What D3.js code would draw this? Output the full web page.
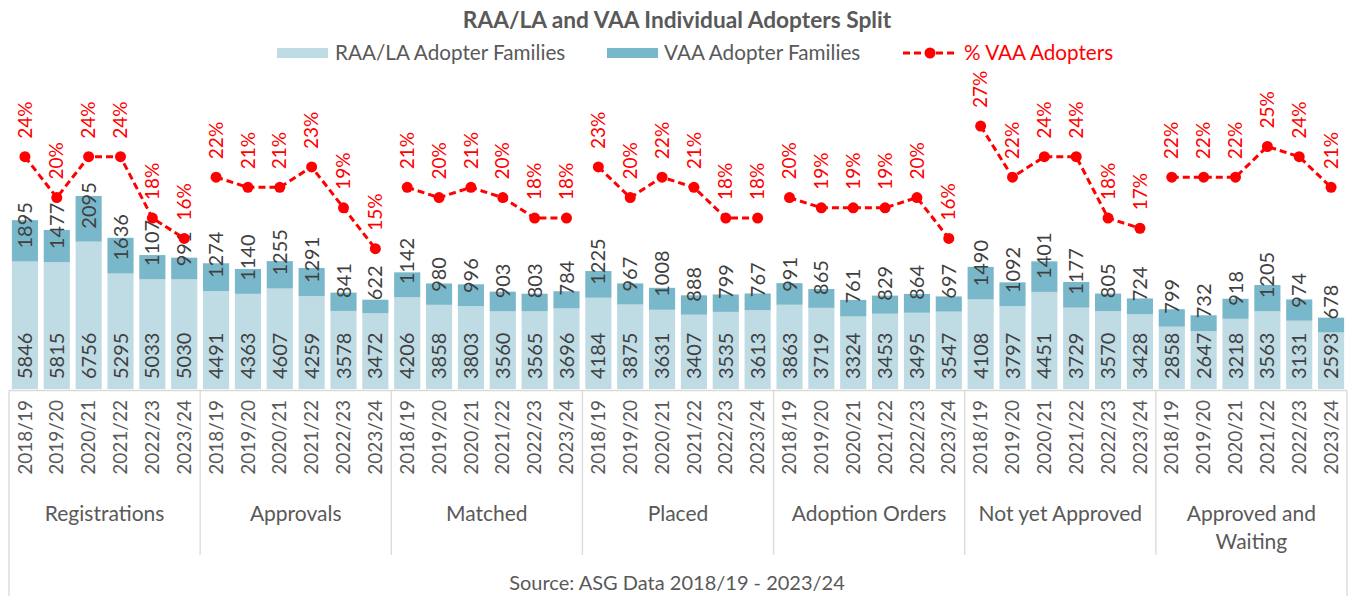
<!DOCTYPE html>
<html>
<head>
<meta charset="utf-8">
<script src="https://cdn.jsdelivr.net/npm/d3@7"></script>
<style>
  body { margin: 0; background: #fff; }
  svg text { font-family: Lato, "Open Sans", sans-serif; }
</style>
</head>
<body>
<svg id="chart" width="1351" height="596"></svg>
<script>
// stages and years on the x axis
const groups = ['Registrations', 'Approvals', 'Matched', 'Placed', 'Adoption Orders', 'Not yet Approved', 'Approved and Waiting'];
const years = ['2018/19', '2019/20', '2020/21', '2021/22', '2022/23', '2023/24'];

// RAA/LA adopter families, one row per stage
const raaLa = [
    [5846, 5815, 6756, 5295, 5033, 5030],
    [4491, 4363, 4607, 4259, 3578, 3472],
    [4206, 3858, 3803, 3560, 3565, 3696],
    [4184, 3875, 3631, 3407, 3535, 3613],
    [3863, 3719, 3324, 3453, 3495, 3547],
    [4108, 3797, 4451, 3729, 3570, 3428],
    [2858, 2647, 3218, 3563, 3131, 2593],
];

// VAA adopter families
const vaa = [
    [1895, 1477, 2095, 1636, 1107, 991],
    [1274, 1140, 1255, 1291, 841, 622],
    [1142, 980, 996, 903, 803, 784],
    [1225, 967, 1008, 888, 799, 767],
    [991, 865, 761, 829, 864, 697],
    [1490, 1092, 1401, 1177, 805, 724],
    [799, 732, 918, 1205, 974, 678],
];

// % VAA adopters
const vaaPct = [
    [24, 20, 24, 24, 18, 16],
    [22, 21, 21, 23, 19, 15],
    [21, 20, 21, 20, 18, 18],
    [23, 20, 22, 21, 18, 18],
    [20, 19, 19, 19, 20, 16],
    [27, 22, 24, 24, 18, 17],
    [22, 22, 22, 25, 24, 21],
];

const COLOR_RAA = '#bfdbe4';
const COLOR_VAA = '#79b8ca';
const COLOR_PCT = '#ff0000';
const COLOR_TEXT = '#595959';
const COLOR_LABEL = '#404040';
const COLOR_GRID = '#d9d9d9';

const LEFT = 9, RIGHT = 1347, TOP = 40, BOTTOM = 389;

const svg = d3.select('#chart');

// flatten into one row per bar
const rows = [];
groups.forEach((g, gi) => {
    years.forEach((yr, yi) => {
        rows.push({
            key: gi + '|' + yr,
            group: gi,
            year: yr,
            raa: raaLa[gi][yi],
            vaa: vaa[gi][yi],
            pct: vaaPct[gi][yi],
        });
    });
});

const x = d3.scaleBand()
    .domain(rows.map(d => d.key))
    .range([LEFT, RIGHT])
    .paddingInner(0.18)
    .paddingOuter(0.09);

const y = d3.scaleLinear().domain([0, 16000]).range([BOTTOM, TOP]);
// secondary axis (Excel auto range, min sits a bit above 0)
const y2 = d3.scaleLinear().domain([1.27, 35.42]).range([BOTTOM, TOP]);

const cx = d => x(d.key) + x.bandwidth() / 2;

// title
svg.append('text')
    .attr('x', 677).attr('y', 28)
    .attr('text-anchor', 'middle')
    .attr('font-size', 22.7).attr('font-weight', 'bold')
    .attr('fill', COLOR_TEXT)
    .text('RAA/LA and VAA Individual Adopters Split');

// legend
const legend = svg.append('g').attr('font-size', 20.7).attr('fill', COLOR_TEXT);
legend.append('rect').attr('x', 277).attr('y', 48).attr('width', 51).attr('height', 10).attr('fill', COLOR_RAA);
legend.append('text').attr('x', 335).attr('y', 60).text('RAA/LA Adopter Families');
legend.append('rect').attr('x', 607).attr('y', 48).attr('width', 51).attr('height', 10).attr('fill', COLOR_VAA);
legend.append('text').attr('x', 664).attr('y', 60).text('VAA Adopter Families');
legend.append('line').attr('x1', 903).attr('x2', 957).attr('y1', 53).attr('y2', 53)
    .attr('stroke', COLOR_PCT).attr('stroke-width', 3).attr('stroke-dasharray', '7 4');
legend.append('circle').attr('cx', 930).attr('cy', 53).attr('r', 5.5).attr('fill', COLOR_PCT);
legend.append('text').attr('x', 964).attr('y', 60).attr('fill', COLOR_PCT).text('% VAA Adopters');

// bars
const bars = svg.append('g');
bars.selectAll('rect.raa')
    .data(rows).join('rect')
    .attr('class', 'raa')
    .attr('x', d => x(d.key))
    .attr('width', x.bandwidth())
    .attr('y', d => y(d.raa))
    .attr('height', d => y(0) - y(d.raa))
    .attr('fill', COLOR_RAA);

bars.selectAll('rect.vaa')
    .data(rows).join('rect')
    .attr('class', 'vaa')
    .attr('x', d => x(d.key))
    .attr('width', x.bandwidth())
    .attr('y', d => y(d.raa + d.vaa))
    .attr('height', d => y(d.raa) - y(d.raa + d.vaa))
    .attr('fill', COLOR_VAA);

// bar labels, rotated, inside base
const labels = svg.append('g').attr('font-size', 20).attr('fill', COLOR_LABEL);
labels.selectAll('text.raa')
    .data(rows).join('text')
    .attr('class', 'raa')
    .attr('transform', d => `translate(${cx(d)},${y(0) - 10}) rotate(-90)`)
    .attr('dy', '0.35em')
    .text(d => d.raa);

labels.selectAll('text.vaa')
    .data(rows).join('text')
    .attr('class', 'vaa')
    .attr('transform', d => `translate(${cx(d)},${y(d.raa) - 13}) rotate(-90)`)
    .attr('dy', '0.35em')
    .text(d => d.vaa);

// axis
const axis = svg.append('g').attr('stroke', COLOR_GRID).attr('stroke-width', 1.3);
axis.append('line').attr('x1', LEFT).attr('x2', RIGHT).attr('y1', BOTTOM + 1.5).attr('y2', BOTTOM + 1.5);
axis.append('line').attr('x1', LEFT).attr('x2', LEFT).attr('y1', BOTTOM + 1.5).attr('y2', 596);
axis.append('line').attr('x1', RIGHT).attr('x2', RIGHT).attr('y1', BOTTOM + 1.5).attr('y2', 596);
groups.slice(1).forEach((g, i) => {
    const bx = x(rows[(i + 1) * years.length].key) - x.step() * x.paddingInner() / 2;
    axis.append('line').attr('x1', bx).attr('x2', bx).attr('y1', BOTTOM + 1.5).attr('y2', 555);
});

svg.append('g').attr('font-size', 19).attr('fill', COLOR_TEXT)
    .selectAll('text')
    .data(rows).join('text')
    .attr('transform', d => `translate(${cx(d)},${BOTTOM + 11}) rotate(-90)`)
    .attr('text-anchor', 'end')
    .attr('dy', '0.35em')
    .text(d => d.year);

const groupLabels = svg.append('g').attr('font-size', 21).attr('fill', COLOR_TEXT).attr('text-anchor', 'middle');
groups.forEach((g, gi) => {
    const first = rows[gi * years.length], last = rows[gi * years.length + years.length - 1];
    const mid = (cx(first) + cx(last)) / 2;
    const t = groupLabels.append('text').attr('x', mid).attr('y', 521);
    if (g === 'Approved and Waiting') {
        t.append('tspan').attr('x', mid).text('Approved and');
        t.append('tspan').attr('x', mid).attr('dy', 28).text('Waiting');
    } else {
        t.text(g);
    }
});

svg.append('text')
    .attr('x', 677).attr('y', 590)
    .attr('text-anchor', 'middle')
    .attr('font-size', 20).attr('fill', COLOR_TEXT)
    .text('Source: ASG Data 2018/19 - 2023/24');

// % VAA line, broken between stages
const line = d3.line().x(cx).y(d => y2(d.pct));
const pctG = svg.append('g');
groups.forEach((g, gi) => {
    const seg = rows.filter(d => d.group === gi);
    pctG.append('path')
        .attr('d', line(seg))
        .attr('fill', 'none')
        .attr('stroke', COLOR_PCT)
        .attr('stroke-width', 3)
        .attr('stroke-dasharray', '7 4');
});
pctG.selectAll('circle')
    .data(rows).join('circle')
    .attr('cx', cx)
    .attr('cy', d => y2(d.pct))
    .attr('r', 5.5)
    .attr('fill', COLOR_PCT);
pctG.selectAll('text')
    .data(rows).join('text')
    .attr('transform', d => `translate(${cx(d)},${y2(d.pct) - 18}) rotate(-90)`)
    .attr('dy', '0.35em')
    .attr('font-size', 19)
    .attr('fill', COLOR_PCT)
    .text(d => d.pct + '%');
</script>
</body>
</html>
